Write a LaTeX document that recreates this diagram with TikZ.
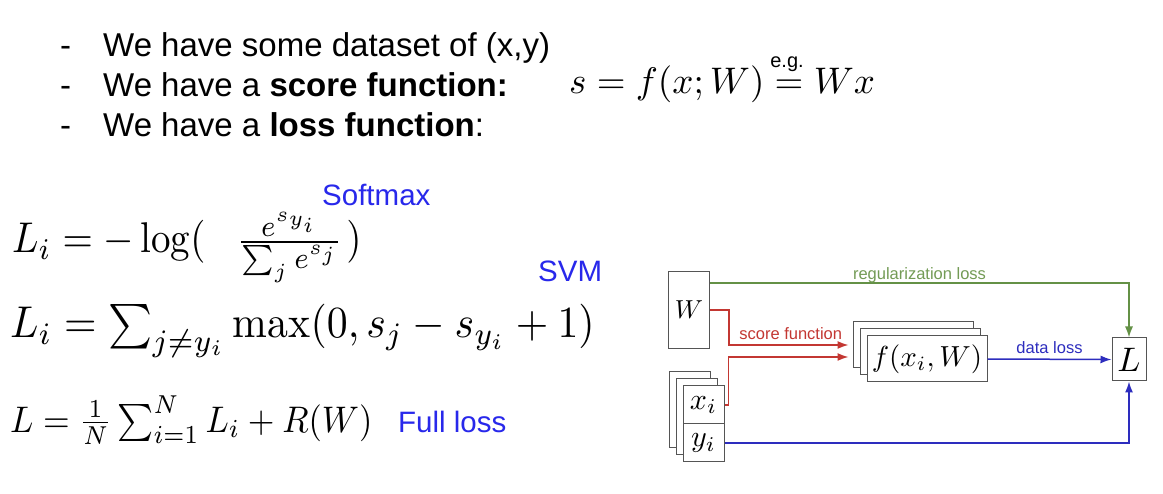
\documentclass[tikz,border=0pt]{standalone}
\usepackage{amsmath}
\usepackage{graphicx}
\usepackage{fontspec}
\newfontfamily\arial{Liberation Sans}
\usetikzlibrary{arrows.meta}
\definecolor{regcol}{RGB}{100,145,70}
\definecolor{reglab}{RGB}{115,155,85}
\definecolor{scorecol}{RGB}{195,55,50}
\definecolor{datacol}{RGB}{45,45,190}
\definecolor{labblue}{RGB}{40,40,235}
\definecolor{boxcol}{RGB}{85,85,85}
\newcommand{\mscale}[2]{\scalebox{#1}{$#2$}}
\newcommand{\mscalehv}[3]{\scalebox{#1}[#2]{$#3$}}
\tikzset{
  bullet/.style={anchor=base west, inner sep=0pt, font=\arial\fontsize{33}{39}\selectfont},
  mathline/.style={anchor=base west, inner sep=0pt},
  lossname/.style={anchor=base west, inner sep=0pt, text=labblue, font=\arial\fontsize{29.5}{34}\selectfont},
  box/.style={draw=boxcol, line width=1pt, fill=white, inner sep=0pt},
  small/.style={inner sep=0pt, font=\arial\fontsize{16.5}{20}\selectfont},
  arr/.style={line width=1.5pt, -{Latex[length=11pt,width=8pt]}},
}
\begin{document}
\begin{tikzpicture}[x=1pt,y=-1pt]
\useasboundingbox[fill=white] (0,0) rectangle (1163,494);
% bullets
\node[bullet] (d1) at (60,57) {-};
\node[bullet] (d2) at (60,97) {-};
\node[bullet] (d3) at (60,137) {-};
\node[bullet] (t1) at (103,57) {We have some dataset of (x,y)};
\node[bullet] (t2) at (103,97) {We have a \textbf{score function:}};
\node[bullet] (t3) at (103,137) {We have a \textbf{loss function}:};
\node[mathline] (sf) at (569,94) {\mscale{3.7}{s = f(x;W) = Wx}};
\node[anchor=base, inner sep=0pt, font=\arial\fontsize{20}{24}\selectfont] (eg) at (787,68) {e.g.};
% loss formulas
\node[mathline] (f1) at (12,253) {\mscalehv{3.9}{4.3}{L_i = -\log(\hspace{8pt}\frac{e^{s_{y_i}}}{\sum_j e^{s_j}}\hspace{0.8pt})}};
\node[mathline] (f2) at (10,338) {\mscalehv{4.18}{4.45}{L_i = \sum_{j\neq y_i} \max(0, s_j - s_{y_i} + 1)}};
\node[mathline] (f3) at (10,432) {\mscalehv{3.43}{3.7}{L = \frac{1}{N}\sum_{i=1}^N L_i + R(W)}};
\node[lossname] (softmax) at (322,206) {Softmax};
\node[lossname] (svm) at (538,282) {SVM};
\node[lossname] (full) at (398,432) {Full loss};
% diagram
\node[box, minimum width=41pt, minimum height=77pt] (W) at (689,310) {\raisebox{-8pt}{\mscale{2.6}{W}}};
\node[box, minimum width=41pt, minimum height=76pt] (xb1) at (689.5,410) {};
\node[box, minimum width=41pt, minimum height=76pt] (xb2) at (697,417) {};
\node[box, minimum width=41pt, minimum height=38pt] (xi) at (703.5,405) {\mscale{3.0}{x_i}};
\node[box, minimum width=41pt, minimum height=38pt] (yi) at (703.5,443) {\mscale{3.0}{y_i}};
\node[box, minimum width=120pt, minimum height=46pt] (fb1) at (913,345) {};
\node[box, minimum width=120pt, minimum height=46pt] (fb2) at (920,352) {};
\node[box, minimum width=120pt, minimum height=46pt] (f) at (927,359) {\mscale{2.9}{f(x_i,W)}};
\node[box, minimum width=34pt, minimum height=43pt] (L) at (1129,359.5) {\mscale{3.4}{L}};
% connectors
\draw[arr, regcol] ([yshift=-12pt]W.north east) -| (L.north)
  node[pos=0.25, above=-1pt, small, text=reglab] (reglabel) {regularization loss};
\draw[arr, scorecol, shorten >=4pt] (W.east) -- ++(19,0) |- (fb1.west)
  node[pos=0.75, above=5pt, small, text=scorecol] (scorelab) {score function};
\draw[arr, scorecol, shorten >=4pt] (xi.east) -- ++(4,0) |- ([yshift=-12pt]fb1.west);
\draw[arr, datacol] (f.east) -- (L.west)
  node[midway, above=5pt, small, text=datacol] (datalab) {data loss};
\draw[arr, datacol] (yi.east) -| (L.south);
\end{tikzpicture}
\end{document}
